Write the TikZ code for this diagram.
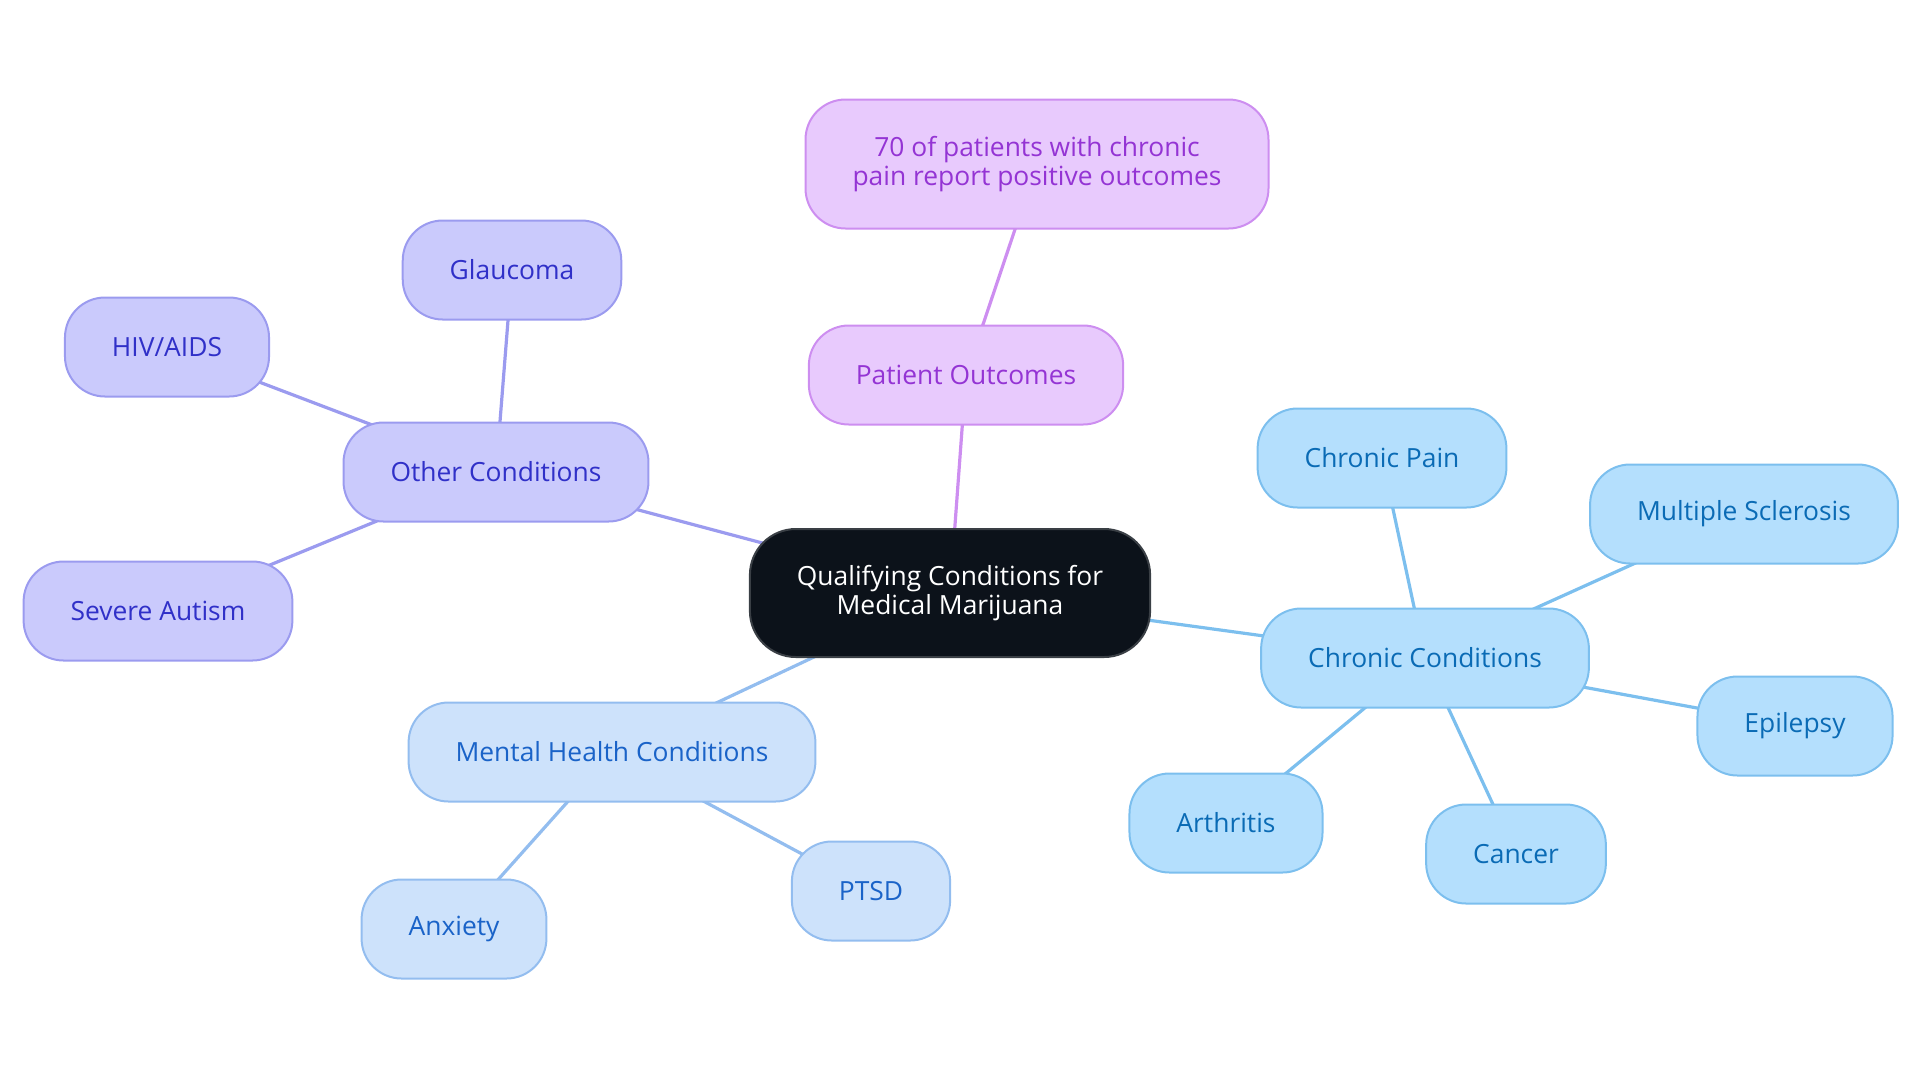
\documentclass[tikz,border=0pt]{standalone}
\usepackage{fontspec}
\setmainfont{Open Sans}
\usetikzlibrary{backgrounds}
\definecolor{rootfill}{HTML}{0C121A}
\definecolor{rootdraw}{HTML}{3A3F45}
\definecolor{outfill}{HTML}{E8CAFD}
\definecolor{outdraw}{HTML}{CD8EF0}
\definecolor{outtext}{HTML}{9434D4}
\definecolor{othfill}{HTML}{CACAFC}
\definecolor{othdraw}{HTML}{9B9BEF}
\definecolor{othtext}{HTML}{3030C8}
\definecolor{menfill}{HTML}{CDE2FB}
\definecolor{mendraw}{HTML}{93BDEF}
\definecolor{mentext}{HTML}{1A63C8}
\definecolor{chrfill}{HTML}{B4DFFD}
\definecolor{chrdraw}{HTML}{7CBFEE}
\definecolor{chrtext}{HTML}{0A6BB5}
\begin{document}
\begin{tikzpicture}[x=0.5pt, y=-0.5pt,
    base/.style = {rounded corners=20pt, minimum height=49.5pt, inner xsep=23.5pt,
      align=center, line width=1pt, font=\fontsize{13.2}{14.8}\selectfont},
    root/.style = {base, fill=rootfill, draw=rootdraw, text=white,
      minimum height=64pt, rounded corners=23pt},
    outcome/.style = {base, fill=outfill, draw=outdraw, text=outtext},
    other/.style = {base, fill=othfill, draw=othdraw, text=othtext},
    mental/.style = {base, fill=menfill, draw=mendraw, text=mentext},
    chronic/.style = {base, fill=chrfill, draw=chrdraw, text=chrtext},
    link/.style = {line width=1.6pt}]
  \useasboundingbox (0,0) rectangle (1920,1083);
  \node [root] (root) at (950,593) {Qualifying Conditions for\\Medical Marijuana};
  \node [outcome] (outcomes) at (966,375) {Patient Outcomes};
  \node [outcome, minimum height=64.5pt] (facts) at (1037,164) {70 of patients with chronic\\pain report positive outcomes};
  \node [other] (other) at (496,472) {Other Conditions};
  \node [other] (glaucoma) at (512,270) {Glaucoma};
  \node [other] (hiv) at (167,347) {HIV/AIDS};
  \node [other] (autism) at (158,611) {Severe Autism};
  \node [mental] (mental) at (612,752) {Mental Health Conditions};
  \node [mental] (anxiety) at (454,929) {Anxiety};
  \node [mental] (ptsd) at (871,891) {PTSD};
  \node [chronic] (chronic) at (1425,658) {Chronic Conditions};
  \node [chronic] (pain) at (1382,458) {Chronic Pain};
  \node [chronic] (ms) at (1744,514) {Multiple Sclerosis};
  \node [chronic] (epilepsy) at (1795,726) {Epilepsy};
  \node [chronic] (cancer) at (1516,854) {Cancer};
  \node [chronic] (arthritis) at (1226,823) {Arthritis};
  \begin{pgfonlayer}{background}
    \draw [link, outdraw] (root.center) -- (outcomes.center) -- (facts.center);
    \draw [link, othdraw] (root.center) -- (other.center);
    \foreach \leaf in {glaucoma, hiv, autism}
      \draw [link, othdraw] (other.center) -- (\leaf.center);
    \draw [link, mendraw] (root.center) -- (mental.center);
    \foreach \leaf in {anxiety, ptsd}
      \draw [link, mendraw] (mental.center) -- (\leaf.center);
    \draw [link, chrdraw] (root.center) -- (chronic.center);
    \foreach \leaf in {pain, ms, epilepsy, cancer, arthritis}
      \draw [link, chrdraw] (chronic.center) -- (\leaf.center);
  \end{pgfonlayer}
\end{tikzpicture}
\end{document}
